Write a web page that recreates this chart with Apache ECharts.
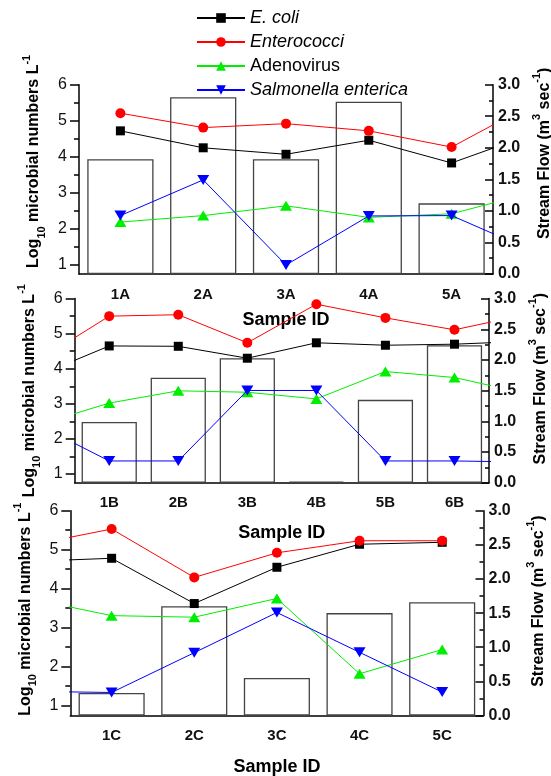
<!DOCTYPE html>
<html><head><meta charset="utf-8">
<script src="https://cdn.jsdelivr.net/npm/echarts@6/dist/echarts.min.js"></script>
<style>html,body{margin:0;padding:0;background:#fff}#c{width:551px;height:776px}</style>
</head><body><div id="c"></div>
<script>
// ---- data (continuous sampling sequence; panels are windows onto it) ----
const categories = ['1A','2A','3A','4A','5A','1B','2B','3B','4B','5B','6B','1C','2C','3C','4C','5C'];
const ecoli      = [4.72,4.25,4.07,4.46,3.83, 4.65,4.64,4.30,4.74,4.67,4.70, 4.78,3.62,4.55,5.14,5.19];
const entero     = [5.21,4.81,4.92,4.72,4.27, 5.50,5.54,4.74,5.84,5.45,5.11, 5.53,4.29,4.92,5.23,5.23];
const adeno      = [2.19,2.37,2.64,2.32,2.42, 3.02,3.37,3.33,3.14,3.92,3.75, 3.31,3.27,3.75,1.82,2.44];
const salmonella = [2.37,3.36,1.00,2.36,2.37, 1.37,1.37,3.38,3.38,1.37,1.37, 1.34,2.36,3.39,2.37,1.35];
const streamFlow = [1.82,2.80,1.82,2.73,1.12, 0.99,1.71,2.03,0.02,1.35,2.24, 0.33,1.60,0.55,1.50,1.66];
const panelStart = [0,5,11];
const panelCount = [5,6,5];
const leftTickValues  = [1,2,3,4,5,6];
const leftMinorValues = [1.5,2.5,3.5,4.5,5.5];
const seriesNames = ['E. coli','Enterococci','Adenovirus','Salmonella enterica'];

// ---- layout / styles ----
const FONT = '"Liberation Sans", Arial, sans-serif';
const layout = [
  {left:79,   top:84.7,  width:414,   height:189.3, lGap:32, lPad:36, rGap:34, rPad:52, xGap:37},
  {left:74.7, top:298.6, width:414.3, height:184.1, lGap:32, lPad:0,  rGap:37, rPad:24, xGap:41},
  {left:70.3, top:510.7, width:413.2, height:204.8, lGap:23, lPad:8,  rGap:42, rPad:24, xGap:43}
];
const lineStyles = [
  {color:'#000000', symbol:'rect', size:9},
  {color:'#ff0000', symbol:'circle', size:10},
  {color:'#00ee00', symbol:'triangle', size:[12,10]},
  {color:'#0000ff', symbol:'path://M0,0L10,0L5,10Z', size:[12,10]}
];
const valueSets = [ecoli, entero, adeno, salmonella];

const richName = {
  b:   {fontSize:16, fontWeight:'bold', fontFamily:FONT, color:'#000', lineHeight:26, verticalAlign:'middle'},
  sub: {fontSize:11, fontWeight:'bold', fontFamily:FONT, color:'#000', lineHeight:12, verticalAlign:'bottom'},
  sup: {fontSize:11, fontWeight:'bold', fontFamily:FONT, color:'#000', lineHeight:12, verticalAlign:'top'}
};

const grid = [], xAxis = [], yAxis = [], series = [];
panelStart.forEach((start, p) => {
  const n = panelCount[p], L = layout[p];
  grid.push({left:L.left, top:L.top, width:L.width, height:L.height, containLabel:false, outerBoundsMode:'none'});
  xAxis.push({
    gridIndex:p, type:'category', data:categories.slice(start, start+n), boundaryGap:true,
    axisLine:{lineStyle:{color:'#000', width:1.5}},
    axisTick:{alignWithLabel:false, length:5, lineStyle:{color:'#000', width:1.5}},
    axisLabel:{fontFamily:FONT, fontWeight:'bold', fontSize:15, color:'#111', margin:13},
    name:'Sample ID', nameLocation:'middle', nameGap:L.xGap,
    nameTextStyle:{fontFamily:FONT, fontWeight:'bold', fontSize:18, color:'#000'},
    splitLine:{show:false}
  });
  xAxis.push({gridIndex:p, type:'value', min:0.5, max:n+0.5, show:false, splitLine:{show:false}});
  yAxis.push({
    gridIndex:p, type:'value', position:'left', min:0.75, max:6,
    axisLine:{show:true, lineStyle:{color:'#000', width:1.5}},
    axisTick:{show:true, length:9, customValues:leftTickValues, lineStyle:{color:'#000', width:1.5}},
    axisLabel:{customValues:leftTickValues, fontFamily:FONT, fontSize:16, color:'#111', margin:12},
    splitLine:{show:false},
    name:'{b|Log}{sub|10}{b| microbial numbers L}{sup|-1}', nameLocation:'middle', nameRotate:90, nameGap:L.lGap,
    nameTextStyle:{rich:richName, padding:[0,0,0,L.lPad]}
  });
  yAxis.push({
    gridIndex:p, type:'value', position:'left', min:0.75, max:6,
    axisLine:{show:false}, axisLabel:{show:false}, splitLine:{show:false},
    axisTick:{show:true, length:5, customValues:leftMinorValues, lineStyle:{color:'#000', width:1.5}}
  });
  yAxis.push({
    gridIndex:p, type:'value', position:'right', min:0, max:3, interval:0.5,
    axisLine:{show:true, lineStyle:{color:'#000', width:1.5}},
    axisTick:{show:true, inside:true, length:8, lineStyle:{color:'#000', width:1.5}},
    minorTick:{show:true, splitNumber:2, length:4, lineStyle:{color:'#000', width:1.5}},
    axisLabel:{fontFamily:FONT, fontWeight:'bold', fontSize:16, color:'#111', margin:5, formatter:v=>v.toFixed(1)},
    splitLine:{show:false},
    name:'{b|Stream Flow (m}{sup|3}{b| sec}{sup|-1}{b|)}', nameLocation:'middle', nameRotate:90, nameGap:L.rGap,
    nameTextStyle:{rich:richName, padding:[0,0,0,L.rPad]}
  });
  series.push({
    name:'Stream Flow', type:'bar', xAxisIndex:2*p, yAxisIndex:3*p+2, barWidth:'80%', z:1,
    data:streamFlow.slice(start, start+n),
    itemStyle:{color:'#ffffff', borderColor:'#444', borderWidth:1.3}
  });
  valueSets.forEach((vals, k) => {
    const st = lineStyles[k];
    series.push({
      name:seriesNames[k], type:'line', xAxisIndex:2*p+1, yAxisIndex:3*p, clip:true, z:3+k,
      data:vals.map((v,i) => [i - start + 1, v]),
      symbol:st.symbol, symbolSize:st.size, showAllSymbol:true,
      lineStyle:{color:st.color, width:1},
      itemStyle:{color:st.color, borderWidth:0}
    });
  });
});

const chart = echarts.init(document.getElementById('c'), null, {renderer:'canvas'});
chart.setOption({
  animation:false,
  backgroundColor:'#fff',
  legend:{
    data:seriesNames, orient:'vertical', left:196, top:8, padding:0,
    itemWidth:48, itemHeight:12, itemGap:4,
    formatter:name => name === 'Adenovirus' ? '{n|' + name + '}' : '{i|' + name + '}',
    textStyle:{fontFamily:FONT, fontSize:18, color:'#000', lineHeight:20,
      rich:{i:{fontFamily:FONT, fontSize:18, fontStyle:'italic', color:'#000', lineHeight:20},
            n:{fontFamily:FONT, fontSize:18, color:'#000', lineHeight:20}}}
  },
  grid, xAxis, yAxis, series
});
</script></body></html>
